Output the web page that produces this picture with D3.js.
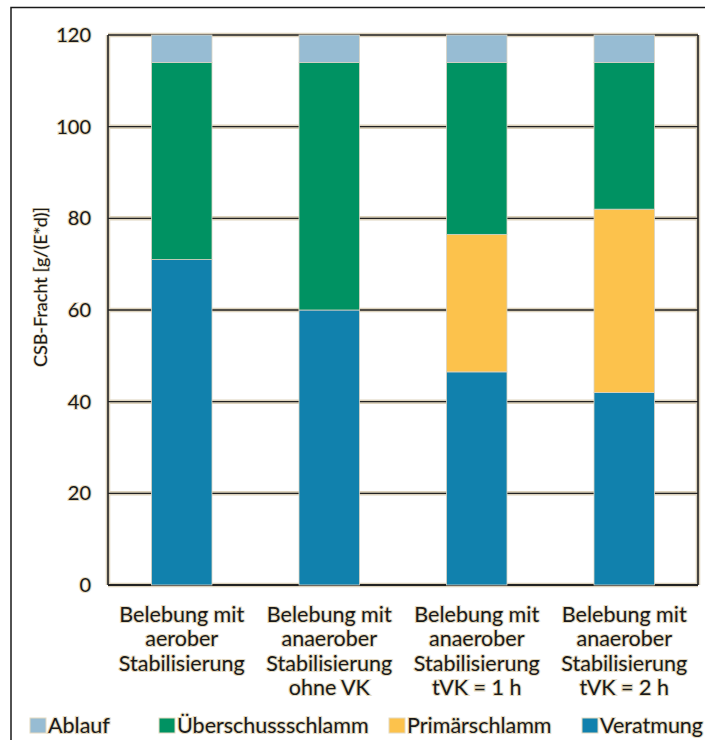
<!DOCTYPE html>
<html>
<head>
<meta charset="utf-8">
<script src="https://cdn.jsdelivr.net/npm/d3@7"></script>
<style>
  html, body { margin: 0; padding: 0; background: #fff; }
  svg { display: block; }
  text { font-family: Lato, "Liberation Sans", sans-serif; fill: #1a1a1a; }
</style>
</head>
<body>
<svg id="chart" width="705" height="740"></svg>
<script>
// Categories (multi-line labels)
const categories = [
  ["Belebung mit", "aerober", "Stabilisierung"],
  ["Belebung mit", "anaerober", "Stabilisierung", "ohne VK"],
  ["Belebung mit", "anaerober", "Stabilisierung", "tVK = 1 h"],
  ["Belebung mit", "anaerober", "Stabilisierung", "tVK = 2 h"]
];
// Series values, g/(E*d), stacked bottom to top
const veratmung = [71, 60, 46.5, 42];
const primaerschlamm = [0, 0, 30, 40];
const ueberschussschlamm = [43, 54, 37.5, 32];
const ablauf = [6, 6, 6, 6];
const seriesNames = ["Veratmung", "Primärschlamm", "Überschussschlamm", "Ablauf"];
const seriesColors = ["#1181ad", "#fcc24c", "#009262", "#97bcd3"];
const legendOrder = ["Ablauf", "Überschussschlamm", "Primärschlamm", "Veratmung"];
const yTicks = [0, 20, 40, 60, 80, 100, 120];
const yTitle = "CSB-Fracht [g/(E*d)]";

const svg = d3.select("#chart");
const m = { left: 108, right: 698, top: 35, bottom: 585 };
const halo = "#e4d9c0";

const rows = categories.map((c, i) => ({
  idx: i,
  Veratmung: veratmung[i],
  "Primärschlamm": primaerschlamm[i],
  "Überschussschlamm": ueberschussschlamm[i],
  Ablauf: ablauf[i]
}));
const stacked = d3.stack().keys(seriesNames)(rows);

const x = d3.scaleBand().domain(d3.range(categories.length)).range([m.left, m.right]).paddingInner(0.59).paddingOuter(0.295);
const y = d3.scaleLinear().domain([0, 120]).range([m.bottom, m.top]);
const color = d3.scaleOrdinal().domain(seriesNames).range(seriesColors);

// Outer frame (top and left edges)
svg.append("path").attr("d", "M11,740 V7.5 H705").attr("fill", "none").attr("stroke", "#1a1a1a").attr("stroke-width", 1.5);

// Gridlines with soft beige halo
const grid = svg.append("g");
yTicks.forEach(t => {
  grid.append("line").attr("x1", m.left).attr("x2", m.right).attr("y1", y(t)).attr("y2", y(t))
    .attr("stroke", "#ddd3bd").attr("stroke-width", 4.5);
});
[m.left, m.right].forEach(px => {
  grid.append("line").attr("x1", px).attr("x2", px).attr("y1", m.top).attr("y2", m.bottom)
    .attr("stroke", "#ddd3bd").attr("stroke-width", 4.5);
});
yTicks.forEach(t => {
  grid.append("line").attr("x1", m.left).attr("x2", m.right).attr("y1", y(t)).attr("y2", y(t))
    .attr("stroke", "#222").attr("stroke-width", t === 0 ? 2 : 1.4);
});
[m.left, m.right].forEach(px => {
  grid.append("line").attr("x1", px).attr("x2", px).attr("y1", m.top).attr("y2", m.bottom)
    .attr("stroke", "#222").attr("stroke-width", 1.6);
});

// Stacked bars
svg.append("g").selectAll("g").data(stacked).join("g")
  .attr("fill", d => color(d.key))
  .selectAll("rect").data(d => d.filter(p => p[1] > p[0])).join("rect")
  .attr("x", p => x(p.data.idx))
  .attr("width", x.bandwidth())
  .attr("y", p => y(p[1]))
  .attr("height", p => y(p[0]) - y(p[1]))
  .attr("stroke", "#d9d3c2").attr("stroke-width", 0.8);

// Y axis tick labels
const yAxis = svg.append("g").attr("transform", `translate(${m.left},0)`)
  .call(d3.axisLeft(y).tickValues(yTicks).tickSize(0).tickPadding(17));
yAxis.select(".domain").remove();
yAxis.selectAll("text").attr("font-size", 20).attr("fill", "#1a1a1a")
  .style("font-family", "Lato, 'Liberation Sans', sans-serif")
  .attr("stroke", halo).attr("stroke-width", 2.2).attr("paint-order", "stroke");

// Y title
svg.append("text").attr("transform", `translate(47,287) rotate(-90)`)
  .attr("text-anchor", "middle").attr("font-size", 18)
  .attr("stroke", halo).attr("stroke-width", 1.5).attr("paint-order", "stroke")
  .text(yTitle);

// X category labels
const xl = svg.append("g");
categories.forEach((lines, i) => {
  const t = xl.append("text").attr("text-anchor", "middle").attr("font-size", 21.5)
    .attr("stroke", halo).attr("stroke-width", 2.2).attr("paint-order", "stroke");
  lines.forEach((ln, j) => {
    t.append("tspan").attr("x", x(i) + x.bandwidth() / 2).attr("y", 622 + j * 24.3).text(ln);
  });
});

// Legend
const legendX = [30, 159, 389, 582];
const lg = svg.append("g");
legendOrder.forEach((name, i) => {
  lg.append("rect").attr("x", legendX[i]).attr("y", 718).attr("width", 16).attr("height", 15)
    .attr("fill", color(name)).attr("stroke", halo).attr("stroke-width", 1);
  lg.append("text").attr("x", legendX[i] + 18).attr("y", 733).attr("font-size", 21.5)
    .attr("stroke", halo).attr("stroke-width", 2.2).attr("paint-order", "stroke")
    .text(name);
});
</script>
</body>
</html>
